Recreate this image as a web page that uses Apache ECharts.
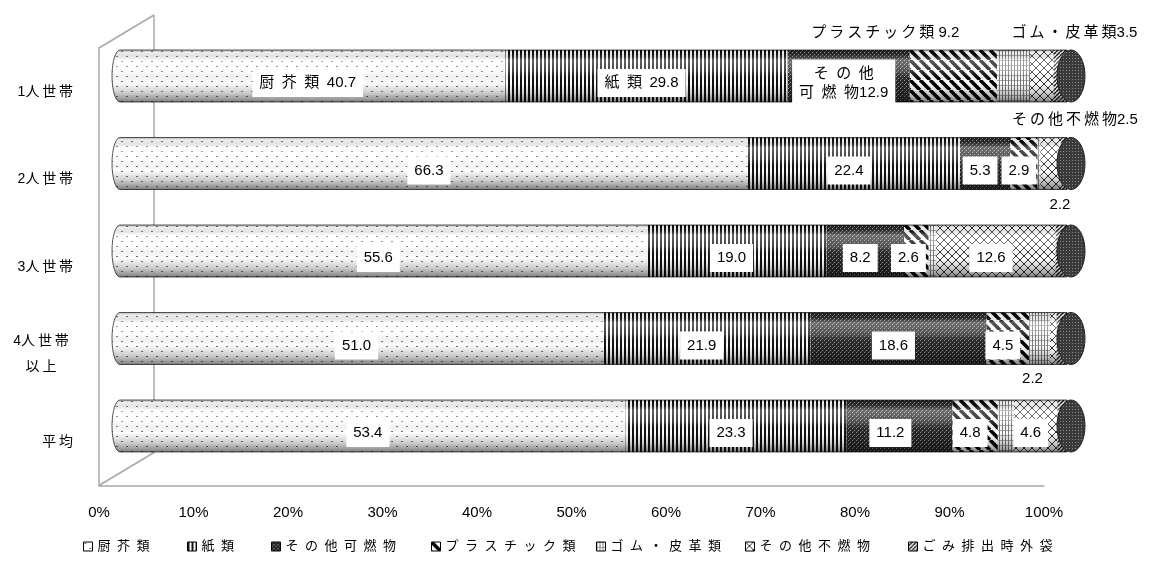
<!DOCTYPE html>
<html lang="ja">
<head>
<meta charset="utf-8">
<title>世帯人数別 ごみ組成</title>
<script src="https://cdn.jsdelivr.net/npm/echarts@6/dist/echarts.min.js"></script>
<style>
  html, body { margin: 0; padding: 0; background: #fff; }
  #chart { width: 1150px; height: 565px; }
</style>
</head>
<body>
<div id="chart"></div>
<script>
// ---- data (composition, %) ----
const categories = ['1人世帯', '2人世帯', '3人世帯', '4人世帯\n以上', '平均'];
const seriesNames = ['厨芥類', '紙類', 'その他可燃物', 'プラスチック類', 'ゴム・皮革類', 'その他不燃物', 'ごみ排出時外袋'];
const kitchenWaste       = [40.7, 66.3, 55.6, 51.0, 53.4];
const paper              = [29.8, 22.4, 19.0, 21.9, 23.3];
const otherCombustible   = [12.9, 5.3, 8.2, 18.6, 11.2];
const plastics           = [9.2, 2.9, 2.6, 4.5, 4.8];
const rubberLeather      = [3.5, 0.3, 0.8, 2.2, 1.7];
const otherIncombustible = [2.5, 2.2, 12.6, 0.7, 4.6];
const outerBags          = [1.4, 0.6, 1.2, 1.1, 1.0];
const percentTicks = [0, 10, 20, 30, 40, 50, 60, 70, 80, 90, 100];

const seriesValues = [kitchenWaste, paper, otherCombustible, plastics, rubberLeather, otherIncombustible, outerBags];

// ---- which values carry a label, and how they are placed ----
const labelSpecs = [
  { s: 0, r: 0, named: true, sep: '\u2002' },
  { s: 1, r: 0, named: true, sep: '\u2002' },
  { s: 2, r: 0, named: true, sep: '', wrapAfter: 3 },
  { s: 3, r: 0, named: true, sep: ' ', outside: true, dx: -68, dy: -43 },
  { s: 4, r: 0, named: true, sep: '', outside: true, dx: 61, dy: -43 },
  { s: 5, r: 0, named: true, sep: '', outside: true, dx: 33, dy: 44 },
  { s: 0, r: 1 }, { s: 1, r: 1 }, { s: 2, r: 1 }, { s: 3, r: 1 },
  { s: 5, r: 1, outside: true, dx: 9, dy: 41 },
  { s: 0, r: 2 }, { s: 1, r: 2 }, { s: 2, r: 2 }, { s: 3, r: 2, dx: -8 }, { s: 5, r: 2 },
  { s: 0, r: 3 }, { s: 1, r: 3 }, { s: 2, r: 3 }, { s: 3, r: 3 },
  { s: 4, r: 3, outside: true, dx: -7, dy: 40 },
  { s: 0, r: 4 }, { s: 1, r: 4 }, { s: 2, r: 4, dx: -9 }, { s: 3, r: 4 }, { s: 5, r: 4 }
];

// ---- layout / style constants ----
const FONT = "'Liberation Sans', 'Noto Sans CJK JP', sans-serif";
const BAR_HEIGHT = 52;
const CAP_RX_LEFT = 8;
const CAP_RX_RIGHT = 14;
const CAP_SHIFT = 4;
const LEGEND_LEFT = [83, 187, 271, 431, 596, 745, 908];
const FRONT = { left: 99, top: 48, width: 945, height: 437.5 };
const DEPTH = { x: 55, y: -33 };
const WALL = '#a8a8a8';

// widen the spacing between full-width characters
function spread(text, gap) {
  return text.replace(/([^\x00-\x7F])(?=[^\x00-\x7F])/g, '$1' + gap);
}

// ---- fill patterns ----
function tile(w, h, draw, bg) {
  const c = document.createElement('canvas');
  c.width = w; c.height = h;
  const g = c.getContext('2d');
  g.fillStyle = bg || '#fff';
  g.fillRect(0, 0, w, h);
  draw(g, w, h);
  return { image: c, repeat: 'repeat' };
}
function lines(g, w, h, dir, width, color) {
  g.strokeStyle = color; g.lineWidth = width;
  g.beginPath();
  for (let c = -w; c <= 2 * w; c += w) {
    if (dir > 0) { g.moveTo(c, 0); g.lineTo(c + h, h); }
    else { g.moveTo(c, 0); g.lineTo(c - h, h); }
  }
  g.stroke();
}
const patterns = [
  tile(10, 10, g => { g.fillStyle = '#707070'; g.fillRect(1, 1, 2, 1); g.fillRect(6, 6, 2, 1); }),
  tile(4, 4, g => { g.fillStyle = '#111'; g.fillRect(0, 0, 2, 4); }),
  tile(4, 4, g => { g.fillStyle = '#9a9a9a'; g.fillRect(0, 0, 1, 1); g.fillRect(2, 2, 1, 1); g.fillStyle = '#555'; g.fillRect(1, 3, 1, 1); }, '#262626'),
  tile(10, 10, (g, w, h) => lines(g, w, h, 1, 3.6, '#000')),
  tile(3, 5, g => { g.fillStyle = '#7a7a7a'; g.fillRect(0, 0, 1, 5); g.fillStyle = '#a8a8a8'; g.fillRect(1, 0, 2, 1); }),
  tile(8, 8, (g, w, h) => { lines(g, w, h, 1, 1, '#333'); lines(g, w, h, -1, 1, '#333'); }),
  tile(4, 4, (g, w, h) => lines(g, w, h, -1, 1.4, '#111'))
];
const capPattern = tile(3, 3, g => { g.fillStyle = '#8a8a8a'; g.fillRect(1, 1, 1, 1); }, '#3a3a3a');

// ---- label positions derived from the stacked values ----
function segmentMid(s, r) {
  let start = 0;
  for (let k = 0; k < s; k++) start += seriesValues[k][r];
  return start + seriesValues[s][r] / 2;
}
function labelText(spec) {
  const v = seriesValues[spec.s][spec.r].toFixed(1);
  if (!spec.named) return v;
  const name = seriesNames[spec.s];
  const gap = spec.outside ? '\u2009' : '\u2002';
  if (spec.wrapAfter) {
    return spread(name.slice(0, spec.wrapAfter), gap) + '\n' + spread(name.slice(spec.wrapAfter), gap) + spec.sep + v;
  }
  return spread(name, gap) + spec.sep + v;
}

// ---- cylinder shading, end caps ----
const gloss = new echarts.graphic.LinearGradient(0, 0, 0, 1, [
  { offset: 0, color: 'rgba(0,0,0,0.32)' },
  { offset: 0.06, color: 'rgba(0,0,0,0.06)' },
  { offset: 0.2, color: 'rgba(255,255,255,0.35)' },
  { offset: 0.42, color: 'rgba(255,255,255,0.2)' },
  { offset: 0.62, color: 'rgba(0,0,0,0)' },
  { offset: 0.82, color: 'rgba(0,0,0,0.2)' },
  { offset: 0.95, color: 'rgba(0,0,0,0.42)' },
  { offset: 1, color: 'rgba(0,0,0,0.55)' }
]);

function renderCylinder(params, api) {
  const row = api.value(1);
  const a = api.coord([0, row]);
  const b = api.coord([api.value(0), row]);
  const ry = BAR_HEIGHT / 2;
  const top = a[1] - ry, bot = a[1] + ry;
  const leftCap = `M${a[0]} ${top} A${CAP_RX_LEFT} ${ry} 0 0 0 ${a[0]} ${bot} Z`;
  const body = `M${a[0]} ${top} L${b[0]} ${top} L${b[0]} ${bot} L${a[0]} ${bot} A${CAP_RX_LEFT} ${ry} 0 0 1 ${a[0]} ${top} Z`;
  const cx = b[0] + CAP_SHIFT;
  const endCap = `M${cx - CAP_RX_RIGHT} ${a[1]} A${CAP_RX_RIGHT} ${ry} 0 1 0 ${cx + CAP_RX_RIGHT} ${a[1]} A${CAP_RX_RIGHT} ${ry} 0 1 0 ${cx - CAP_RX_RIGHT} ${a[1]} Z`;
  return {
    type: 'group',
    children: [
      { type: 'path', shape: { pathData: leftCap }, style: { fill: patterns[0] } },
      { type: 'path', shape: { pathData: body }, style: { fill: gloss, stroke: 'rgba(0,0,0,0.65)', lineWidth: 1 } },
      { type: 'path', shape: { pathData: endCap }, style: { fill: capPattern, stroke: '#222', lineWidth: 1 } }
    ]
  };
}

function renderLabel(params, api) {
  const spec = labelSpecs[params.dataIndex];
  const p = api.coord([api.value(0), api.value(1)]);
  const style = {
    text: labelText(spec),
    fill: '#000',
    fontSize: 15,
    fontFamily: FONT,
    align: 'center',
    verticalAlign: 'middle',
    lineHeight: 19
  };
  if (!spec.outside) {
    style.backgroundColor = '#fff';
    style.padding = [5, 7, 4, 7];
  }
  return {
    type: 'text',
    x: p[0] + (spec.dx != null ? spec.dx : -5),
    y: p[1] + (spec.dy != null ? spec.dy : 7),
    style: style
  };
}

// ---- chart ----
const chart = echarts.init(document.getElementById('chart'), null, { renderer: 'canvas' });

const barSeries = seriesNames.map((name, i) => ({
  name: name,
  type: 'bar',
  stack: 'total',
  xAxisIndex: 0,
  yAxisIndex: 0,
  barWidth: BAR_HEIGHT,
  barGap: '-100%',
  z: 2,
  silent: true,
  itemStyle: { color: patterns[i] },
  emphasis: { disabled: true },
  data: seriesValues[i]
}));

const option = {
  animation: false,
  backgroundColor: '#fff',
  textStyle: { fontFamily: FONT },
  grid: [
    { left: 120, width: 947, top: 32.25, height: 437.5 },
    { left: FRONT.left, width: FRONT.width, top: FRONT.top, height: FRONT.height }
  ],
  xAxis: [
    { gridIndex: 0, type: 'value', min: 0, max: 100, show: false },
    {
      gridIndex: 1, type: 'value',
      min: percentTicks[0], max: percentTicks[percentTicks.length - 1],
      interval: percentTicks[1] - percentTicks[0],
      axisLine: { show: true, lineStyle: { color: WALL, width: 1.5 } },
      axisTick: { show: false },
      splitLine: { show: false },
      axisLabel: { formatter: '{value}%', color: '#000', fontSize: 15, fontFamily: FONT, margin: 20 }
    }
  ],
  yAxis: [
    { gridIndex: 0, type: 'category', data: categories, inverse: true, show: false },
    {
      gridIndex: 1, type: 'category', data: categories, inverse: true,
      axisLine: { show: true, lineStyle: { color: WALL, width: 1.5 } },
      axisTick: { show: false },
      splitLine: { show: false },
      axisLabel: {
        color: '#000', fontSize: 14, fontFamily: FONT, align: 'right', margin: 26, lineHeight: 26,
        formatter: v => v.indexOf('\n') >= 0
          ? v.split('\n').map(l => '{c|' + spread(l, '\u2009') + '}').join('\n')
          : spread(v, '\u2009'),
        rich: { c: { width: 64, align: 'center', fontSize: 14, fontFamily: FONT, color: '#000', lineHeight: 26 } }
      }
    }
  ],
  legend: seriesNames.map((name, i) => ({
    data: [name],
    left: LEGEND_LEFT[i],
    top: 540,
    padding: 0,
    icon: 'rect',
    itemWidth: 9,
    itemHeight: 9,
    selectedMode: false,
    itemStyle: { borderColor: '#000', borderWidth: 1 },
    textStyle: { color: '#000', fontSize: 13, fontFamily: FONT },
    formatter: n => spread(n, '\u2002')
  })),
  graphic: [
    { type: 'line', z: 0, shape: { x1: FRONT.left, y1: FRONT.top, x2: FRONT.left + DEPTH.x, y2: FRONT.top + DEPTH.y }, style: { stroke: WALL, lineWidth: 1.5 } },
    { type: 'line', z: 0, shape: { x1: FRONT.left + DEPTH.x, y1: FRONT.top + DEPTH.y, x2: FRONT.left + DEPTH.x, y2: FRONT.top + FRONT.height + DEPTH.y }, style: { stroke: WALL, lineWidth: 1.5 } },
    { type: 'line', z: 0, shape: { x1: FRONT.left, y1: FRONT.top + FRONT.height, x2: FRONT.left + DEPTH.x, y2: FRONT.top + FRONT.height + DEPTH.y }, style: { stroke: WALL, lineWidth: 1.5 } }
  ],
  series: barSeries.concat([
    {
      name: 'cylinder',
      type: 'custom',
      xAxisIndex: 0,
      yAxisIndex: 0,
      z: 3,
      silent: true,
      encode: { x: 0, y: 1 },
      renderItem: renderCylinder,
      data: categories.map((c, i) => [percentTicks[percentTicks.length - 1], i])
    },
    {
      name: 'values',
      type: 'custom',
      xAxisIndex: 0,
      yAxisIndex: 0,
      z: 5,
      silent: true,
      encode: { x: 0, y: 1 },
      renderItem: renderLabel,
      data: labelSpecs.map(sp => [segmentMid(sp.s, sp.r), sp.r])
    }
  ])
};

chart.setOption(option);
</script>
</body>
</html>
